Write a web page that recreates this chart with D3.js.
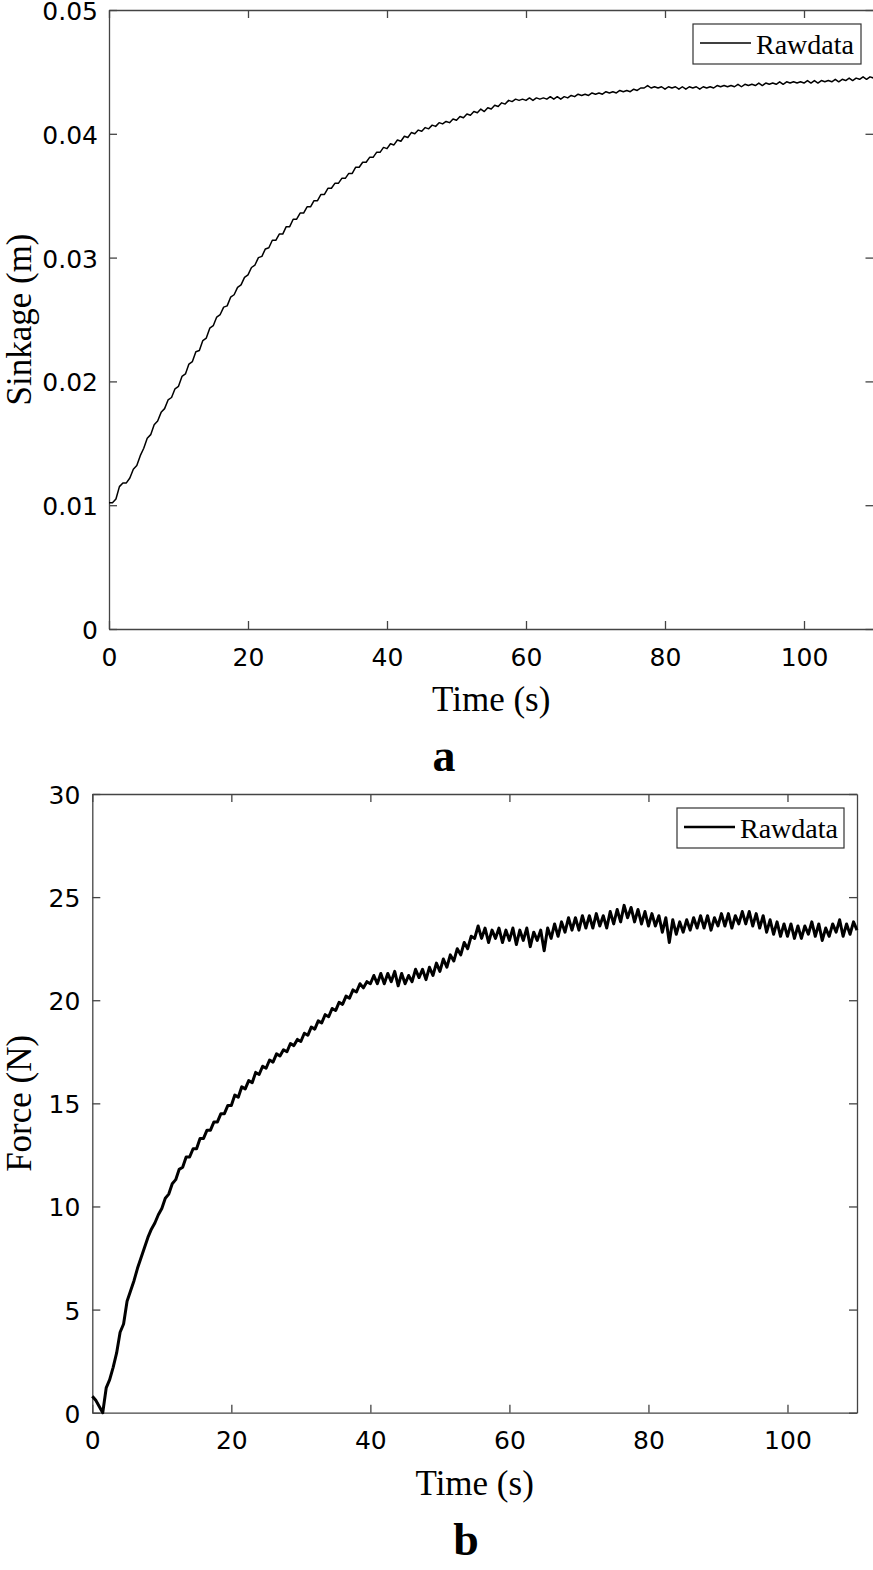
<!DOCTYPE html>
<html>
<head>
<meta charset="utf-8">
<script src="https://cdn.jsdelivr.net/npm/d3@7"></script>
<style>
  body { margin: 0; background: #fff; }
  svg { display: block; }
  .tick text { font-family: "DejaVu Sans", Arial, sans-serif; font-size: 25px; fill: #000; }
  .domain, .tick line { stroke: #444; stroke-width: 1.3; }
  .serif { font-family: "Liberation Serif", "Times New Roman", serif; fill: #000; }
</style>
</head>
<body>
<div id="chart"></div>
<script>
// Sample interval of both recordings (s)
var sampleStep = 0.5;

// Panel a: sinkage (m), one value every 0.5 s from 0 to 110 s
var sinkage = [
  .0102, .0102, .0105, .0115, .0118, .0118, .0122, .0129, .0132, .0140,
  .0146, .0154, .0157, .0165, .0168, .0175, .0178, .0185, .0187, .0194,
  .0196, .0204, .0206, .0214, .0216, .0224, .0225, .0233, .0235, .0243,
  .0245, .0252, .0254, .0260, .0261, .0268, .0270, .0276, .0278, .0284,
  .0286, .0292, .0294, .0300, .0301, .0307, .0308, .0314, .0314, .0319,
  .0319, .0325, .0325, .0331, .0331, .0336, .0336, .0341, .0341, .0346,
  .0346, .0351, .0351, .0356, .0356, .0360, .0360, .0364, .0364, .0368,
  .0368, .0373, .0373, .0377, .0377, .0381, .0381, .0385, .0385, .0389,
  .0388, .0392, .0391, .0395, .0394, .0398, .0397, .0401, .0400, .0403,
  .0402, .0405, .0404, .0407, .0406, .0409, .0408, .0410, .0409, .0412,
  .0411, .0414, .0413, .0416, .0415, .0418, .0417, .0420, .0418, .0421,
  .0420, .0423, .0422, .0425, .0424, .0427, .0426, .0428, .0427, .0428,
  .0427, .0429, .0427, .0429, .0428, .0429, .0428, .0430, .0428, .0430,
  .0428, .0430, .0429, .0431, .0430, .0432, .0431, .0432, .0431, .0433,
  .0432, .0433, .0432, .0434, .0433, .0434, .0433, .0435, .0434, .0435,
  .0434, .0436, .0435, .0437, .0437, .0439, .0437, .0438, .0437, .0438,
  .0436, .0438, .0437, .0438, .0436, .0438, .0436, .0438, .0437, .0438,
  .0436, .0438, .0437, .0438, .0437, .0439, .0438, .0439, .0438, .0439,
  .0438, .0440, .0438, .0440, .0439, .0440, .0439, .0441, .0439, .0441,
  .0440, .0441, .0440, .0442, .0440, .0442, .0441, .0442, .0441, .0442,
  .0441, .0443, .0441, .0443, .0441, .0443, .0442, .0443, .0442, .0444,
  .0442, .0444, .0443, .0445, .0443, .0445, .0444, .0446, .0444, .0446,
  .0445
];

// Panel b: force (N), one value every 0.5 s from 0 to 110 s
var force = [
  0.8, 0.6, 0.3, 0.0, 1.2, 1.6, 2.2, 2.9, 3.9, 4.3,
  5.4, 5.9, 6.4, 7.0, 7.5, 8.0, 8.5, 8.9, 9.2, 9.6,
  9.9, 10.4, 10.6, 11.1, 11.3, 11.8, 11.9, 12.4, 12.4, 12.8,
  12.8, 13.3, 13.3, 13.7, 13.7, 14.1, 14.1, 14.5, 14.5, 14.9,
  14.9, 15.4, 15.3, 15.8, 15.7, 16.1, 16.0, 16.5, 16.4, 16.8,
  16.7, 17.1, 17.0, 17.4, 17.3, 17.6, 17.5, 17.9, 17.8, 18.1,
  18.0, 18.4, 18.3, 18.7, 18.6, 19.0, 18.9, 19.3, 19.2, 19.6,
  19.5, 19.9, 19.8, 20.2, 20.1, 20.5, 20.4, 20.8, 20.6, 20.9,
  20.8, 21.2, 20.8, 21.3, 20.8, 21.3, 20.9, 21.4, 20.7, 21.3,
  20.8, 21.2, 20.9, 21.5, 21.1, 21.5, 21.0, 21.6, 21.2, 21.8,
  21.4, 22.0, 21.6, 22.2, 21.9, 22.5, 22.2, 22.8, 22.5, 23.1,
  23.0, 23.6, 23.0, 23.5, 22.8, 23.4, 23.0, 23.5, 22.8, 23.4,
  22.9, 23.5, 22.7, 23.4, 22.9, 23.5, 22.6, 23.3, 22.9, 23.4,
  22.4, 23.5, 23.0, 23.7, 23.1, 23.8, 23.3, 24.0, 23.4, 24.0,
  23.4, 24.1, 23.5, 24.1, 23.5, 24.2, 23.6, 24.1, 23.5, 24.3,
  23.7, 24.4, 23.8, 24.6, 24.0, 24.5, 23.8, 24.4, 23.7, 24.3,
  23.6, 24.2, 23.6, 24.1, 23.3, 24.0, 22.8, 23.9, 23.2, 23.8,
  23.3, 23.9, 23.4, 24.0, 23.5, 24.1, 23.5, 24.1, 23.4, 24.0,
  23.6, 24.2, 23.6, 24.2, 23.5, 24.1, 23.7, 24.3, 23.7, 24.3,
  23.6, 24.2, 23.5, 24.1, 23.3, 23.9, 23.2, 23.8, 23.1, 23.7,
  23.1, 23.7, 23.0, 23.6, 23.0, 23.6, 23.2, 23.8, 23.1, 23.7,
  22.9, 23.5, 23.1, 23.7, 23.3, 23.9, 23.1, 23.7, 23.2, 23.8,
  23.4
];

// Ticks
var timeTicks = [0, 20, 40, 60, 80, 100];
var timeTickLabels = ['0', '20', '40', '60', '80', '100'];
var sinkTicks = [0, 0.01, 0.02, 0.03, 0.04, 0.05];
var sinkTickLabels = ['0', '0.01', '0.02', '0.03', '0.04', '0.05'];
var forceTicks = [0, 5, 10, 15, 20, 25, 30];
var forceTickLabels = ['0', '5', '10', '15', '20', '25', '30'];

var svg = d3.select('#chart')
  .append('svg')
  .attr('width', 873)
  .attr('height', 1570);

function drawPanel(p) {
  var x = d3.scaleLinear().domain([0, 110]).range([p.left, p.right]);
  var y = d3.scaleLinear().domain(p.yDomain).range([p.bottom, p.top]);
  var g = svg.append('g');

  // box with inward ticks
  g.append('g')
    .attr('transform', `translate(0, ${p.bottom})`)
    .call(d3.axisBottom(x).tickValues(timeTicks).tickFormat((d, i) => timeTickLabels[i])
      .tickSizeInner(-8).tickSizeOuter(0).tickPadding(19));
  g.append('g')
    .attr('transform', `translate(0, ${p.top})`)
    .call(d3.axisTop(x).tickValues(timeTicks).tickFormat('').tickSizeInner(-8).tickSizeOuter(0));
  g.append('g')
    .attr('transform', `translate(${p.left}, 0)`)
    .call(d3.axisLeft(y).tickValues(p.yTicks).tickFormat((d, i) => p.yLabels[i])
      .tickSizeInner(-8).tickSizeOuter(0).tickPadding(p.yPad))
    .selectAll('text')
    .attr('dy', '0.38em');
  g.append('g')
    .attr('transform', `translate(${p.right}, 0)`)
    .call(d3.axisRight(y).tickValues(p.yTicks).tickFormat('').tickSizeInner(-8).tickSizeOuter(0));

  var line = d3.line()
    .x((d, i) => x(i * sampleStep))
    .y(d => y(d));

  g.append('path')
    .datum(p.values)
    .attr('fill', 'none')
    .attr('stroke', '#000')
    .attr('stroke-width', p.lineWidth)
    .attr('stroke-linejoin', 'round')
    .attr('d', line);

  // legend
  var lg = g.append('g').attr('transform', `translate(${p.legend[0]}, ${p.legend[1]})`);
  lg.append('rect')
    .attr('width', p.legend[2]).attr('height', 40)
    .attr('fill', '#fff').attr('stroke', '#333').attr('stroke-width', 1.2);
  lg.append('line')
    .attr('x1', 7).attr('x2', 58).attr('y1', 19).attr('y2', 19)
    .attr('stroke', '#000').attr('stroke-width', p.legendWidth);
  lg.append('text')
    .attr('class', 'serif')
    .attr('x', 63).attr('y', 30)
    .attr('font-size', 28)
    .text('Rawdata');

  // axis titles
  g.append('text')
    .attr('class', 'serif')
    .attr('x', (p.left + p.right) / 2)
    .attr('y', p.bottom + 82)
    .attr('text-anchor', 'middle')
    .attr('font-size', 35)
    .text('Time (s)');
  g.append('text')
    .attr('class', 'serif')
    .attr('transform', `translate(${p.yTitleX}, ${(p.top + p.bottom) / 2}) rotate(-90)`)
    .attr('text-anchor', 'middle')
    .attr('font-size', 35)
    .text(p.yTitle);

  // panel letter
  g.append('text')
    .attr('class', 'serif')
    .attr('x', p.letterX)
    .attr('y', p.bottom + 142)
    .attr('text-anchor', 'middle')
    .attr('font-size', 46)
    .attr('font-weight', 'bold')
    .text(p.letter);
}

drawPanel({
  left: 109, right: 873.5, top: 10, bottom: 629,
  yDomain: [0, 0.05], yTicks: sinkTicks, yLabels: sinkTickLabels, yPad: 11,
  values: sinkage, lineWidth: 1.5, legendWidth: 1.5,
  legend: [693, 24, 168],
  yTitle: 'Sinkage (m)', yTitleX: 31,
  letter: 'a', letterX: 444
});

drawPanel({
  left: 92.3, right: 857, top: 794, bottom: 1412.7,
  yDomain: [0, 30], yTicks: forceTicks, yLabels: forceTickLabels, yPad: 12,
  values: force, lineWidth: 3, legendWidth: 2.6,
  legend: [677, 808, 167],
  yTitle: 'Force (N)', yTitleX: 31,
  letter: 'b', letterX: 466
});
</script>
</body>
</html>
